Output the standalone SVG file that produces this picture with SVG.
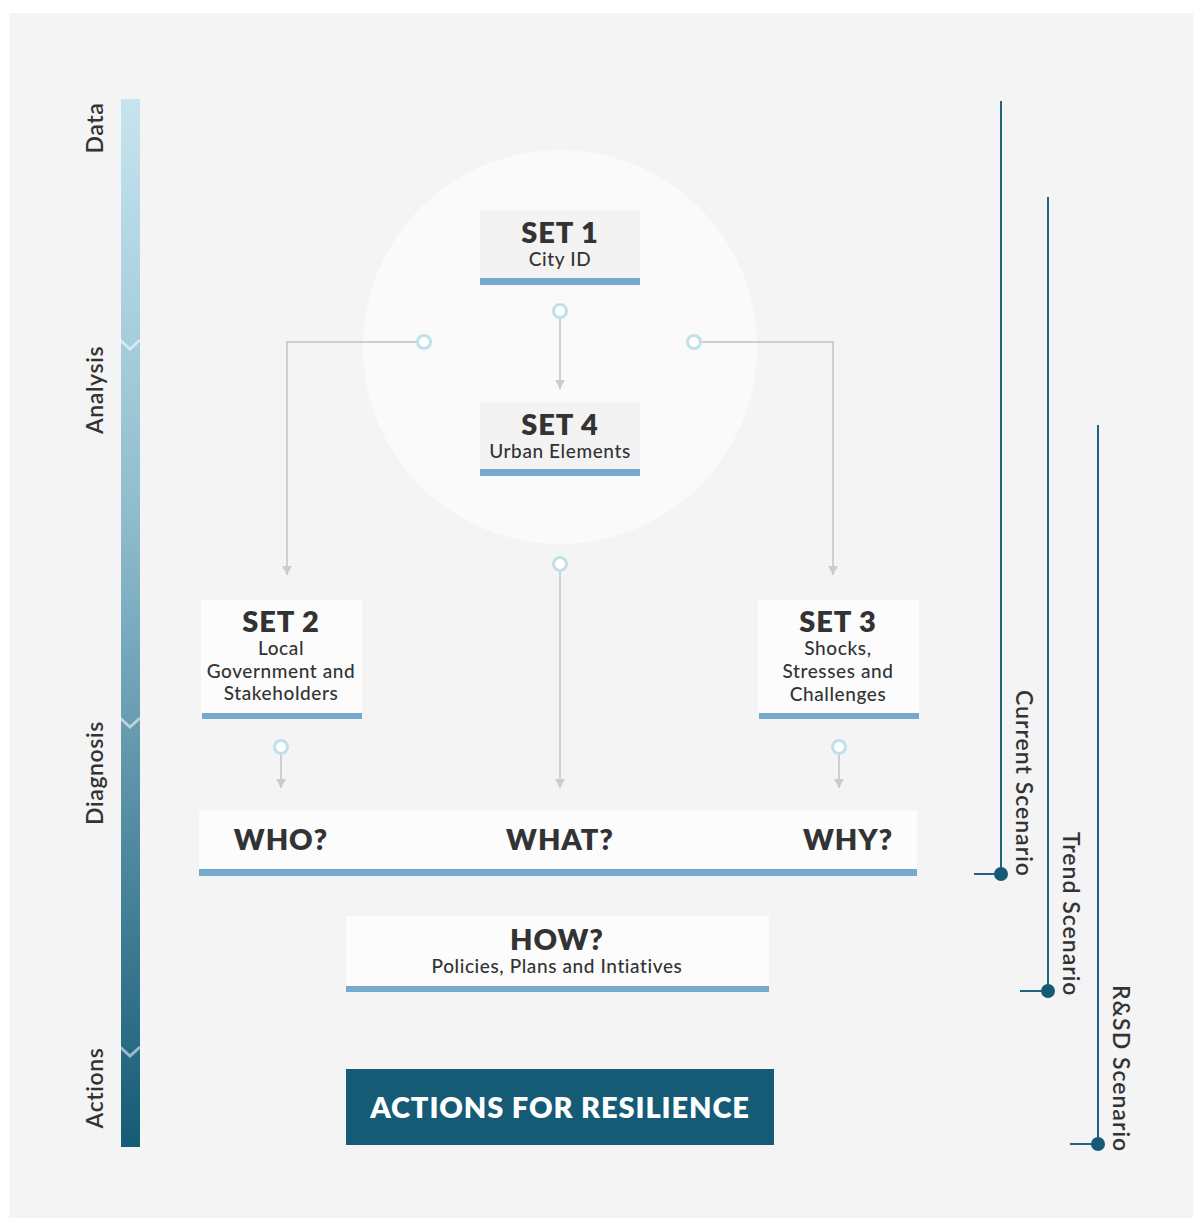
<svg xmlns="http://www.w3.org/2000/svg" width="1195" height="1220" viewBox="0 0 1195 1220">
<defs>
<linearGradient id="barGrad" x1="0" y1="0" x2="0" y2="1">
<stop offset="0" stop-color="#c6e4ef"/>
<stop offset="0.4" stop-color="#8fbccd"/>
<stop offset="1" stop-color="#165b76"/>
</linearGradient>
<marker id="arr" viewBox="0 0 10 10" refX="5" refY="9" markerWidth="10" markerHeight="10" markerUnits="userSpaceOnUse" orient="0">
<path d="M0,0 L10,0 L5,9 Z" fill="#cccccc"/>
</marker>
<style>
.lbl{font-family:Lato,"Liberation Sans",sans-serif;font-size:23px;font-weight:600;fill:#333;letter-spacing:0.6px}
.scn{font-family:Lato,"Liberation Sans",sans-serif;font-size:23px;font-weight:600;fill:#333;letter-spacing:1px}
.h{font-family:Lato,"Liberation Sans",sans-serif;font-size:29px;font-weight:800;fill:#333;text-anchor:middle;letter-spacing:0.9px}
.s{font-family:Lato,"Liberation Sans",sans-serif;font-size:19px;font-weight:500;fill:#333;text-anchor:middle;letter-spacing:0.6px}
.box{fill:#fcfcfc}
.box2{fill:#f3f3f3}
.bar{fill:#75aacc}
.conn{fill:none;stroke:#cfcfcf;stroke-width:2}
.ring{fill:#fff;stroke:#bfe0ec;stroke-width:3}
.vline{stroke:#1f6480;stroke-width:2;fill:none}
.dot{fill:#165b76}
.chev{fill:none;stroke:#ffffff;stroke-opacity:0.55;stroke-width:3}
</style>
</defs>
<rect x="0" y="0" width="1195" height="1220" fill="#ffffff"/>
<rect x="9" y="13" width="1184" height="1205" fill="#f4f4f4"/>

<g id="timeline">
<rect x="121" y="99" width="19" height="1048" fill="url(#barGrad)"/>
<path class="chev" d="M120,340 L130,349 L140,340"/>
<path class="chev" d="M120,718 L130,727 L140,718"/>
<path class="chev" d="M120,1047 L130,1056 L140,1047"/>
<text class="lbl" transform="translate(103,128) rotate(-90)" text-anchor="middle">Data</text>
<text class="lbl" transform="translate(103,390) rotate(-90)" text-anchor="middle">Analysis</text>
<text class="lbl" transform="translate(103,773) rotate(-90)" text-anchor="middle">Diagnosis</text>
<text class="lbl" transform="translate(103,1088) rotate(-90)" text-anchor="middle">Actions</text>
</g>

<circle id="core" cx="560" cy="347" r="197" fill="#fafafa"/>

<g id="connectors">
<path class="conn" d="M560,318 L560,389" marker-end="url(#arr)"/>
<path class="conn" d="M417,342 L287,342 L287,575" marker-end="url(#arr)"/>
<path class="conn" d="M701,342 L833,342 L833,575" marker-end="url(#arr)"/>
<path class="conn" d="M560,571 L560,788" marker-end="url(#arr)"/>
<path class="conn" d="M281,754 L281,788" marker-end="url(#arr)"/>
<path class="conn" d="M839,754 L839,788" marker-end="url(#arr)"/>
<circle class="ring" cx="560" cy="311" r="6.5"/>
<circle class="ring" cx="424" cy="342" r="6.5"/>
<circle class="ring" cx="694" cy="342" r="6.5"/>
<circle class="ring" cx="560" cy="564" r="6.5"/>
<circle class="ring" cx="281" cy="747" r="6.5"/>
<circle class="ring" cx="839" cy="747" r="6.5"/>
</g>

<g id="set1">
<rect class="box2" x="480" y="210" width="160" height="70"/>
<rect class="bar" x="480" y="278" width="160" height="7"/>
<text class="h" x="560" y="243">SET 1</text>
<text class="s" x="560" y="266">City ID</text>
</g>

<g id="set4">
<rect class="box2" x="480" y="402" width="160" height="68"/>
<rect class="bar" x="480" y="469" width="160" height="7"/>
<text class="h" x="560" y="435">SET 4</text>
<text class="s" x="560" y="458">Urban Elements</text>
</g>

<g id="set2">
<rect class="box" x="201" y="600" width="161" height="114"/>
<rect class="bar" x="202" y="713" width="160" height="6"/>
<text class="h" x="281" y="632">SET 2</text>
<text class="s" x="281" y="655">Local</text>
<text class="s" x="281" y="678">Government and</text>
<text class="s" x="281" y="700">Stakeholders</text>
</g>

<g id="set3">
<rect class="box" x="758" y="600" width="161" height="114"/>
<rect class="bar" x="759" y="713" width="160" height="6"/>
<text class="h" x="838" y="632">SET 3</text>
<text class="s" x="838" y="655">Shocks,</text>
<text class="s" x="838" y="678">Stresses and</text>
<text class="s" x="838" y="701">Challenges</text>
</g>

<g id="questions">
<rect class="box" x="199" y="811" width="718" height="59"/>
<rect class="bar" x="199" y="869" width="718" height="7"/>
<text class="h" x="281" y="850">WHO?</text>
<text class="h" x="560" y="850">WHAT?</text>
<text class="h" x="848" y="850">WHY?</text>
</g>

<g id="how">
<rect class="box" x="346" y="916" width="423" height="71"/>
<rect class="bar" x="346" y="986" width="423" height="6"/>
<text class="h" x="557" y="950">HOW?</text>
<text class="s" x="557" y="973">Policies, Plans and Intiatives</text>
</g>

<g id="actions">
<rect x="346" y="1069" width="428" height="76" fill="#165b76"/>
<text class="h" x="560" y="1118" style="fill:#ffffff">ACTIONS FOR RESILIENCE</text>
</g>

<g id="scenarios">
<line class="vline" x1="1001" y1="101" x2="1001" y2="874"/>
<line class="vline" x1="974" y1="874" x2="1001" y2="874"/>
<circle class="dot" cx="1001" cy="874" r="7"/>
<text class="scn" transform="translate(1016,690) rotate(90)">Current Scenario</text>
<line class="vline" x1="1048" y1="197" x2="1048" y2="991"/>
<line class="vline" x1="1020" y1="991" x2="1048" y2="991"/>
<circle class="dot" cx="1048" cy="991" r="7"/>
<text class="scn" transform="translate(1063,832) rotate(90)">Trend Scenario</text>
<line class="vline" x1="1098" y1="425" x2="1098" y2="1144"/>
<line class="vline" x1="1070" y1="1144" x2="1098" y2="1144"/>
<circle class="dot" cx="1098" cy="1144" r="7"/>
<text class="scn" transform="translate(1113,985) rotate(90)">R&amp;SD Scenario</text>
</g>
</svg>
